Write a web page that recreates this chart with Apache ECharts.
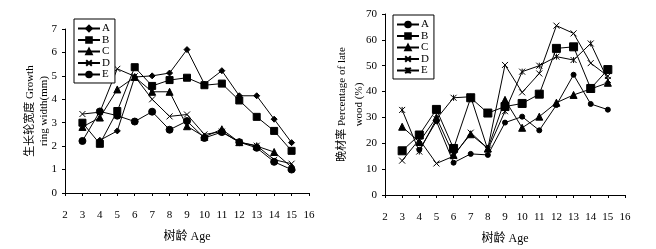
<!DOCTYPE html>
<html lang="zh">
<head>
    <meta charset="UTF-8">
    <title>Growth ring width / latewood</title>
    <script src="https://cdn.jsdelivr.net/npm/echarts@6/dist/echarts.min.js"></script>
    <style type="text/css">
        body{
            margin:0;
            background:#fff;
        }
        #left{position:absolute;left:0;top:0;width:330px;height:249px;}
        #right{position:absolute;left:330px;top:0;width:326px;height:249px;}
    </style>
</head>
<body>
<div id="left"></div>
<div id="right"></div>
<script type="text/javascript">
    // tree age (x)
    var ages = [3, 4, 5, 6, 7, 8, 9, 10, 11, 12, 13, 14, 15];
    var names = ['A', 'B', 'C', 'D', 'E'];

    // growth ring width (mm), left chart
    var widthA = [null, 2.25, 2.65, 4.95, 5.0, 5.12, 6.12, 4.65, 5.22, 4.15, 4.15, 3.15, 2.15];
    var widthB = [3.0, 2.1, 3.5, 5.37, 4.57, 4.82, 4.92, 4.6, 4.67, 3.95, 3.25, 2.65, 1.8];
    var widthC = [2.82, 3.22, 4.42, 4.95, 4.32, 4.32, 2.85, 2.4, 2.72, 2.17, 2.0, 1.75, 1.1];
    var widthD = [3.37, 3.45, 5.3, 4.98, 4.0, 3.27, 3.35, 2.5, 2.62, 2.17, 2.02, 1.42, 1.25];
    var widthE = [2.22, 3.48, 3.3, 3.05, 3.47, 2.7, 3.07, 2.35, 2.6, 2.17, 1.93, 1.33, 1.0];

    // percentage of late wood (%), right chart
    var lateA = [null, 17.5, 28.5, 12.5, 15.9, 15.5, 28, 30.3, 25, 34.8, 46.5, 35.2, 33];
    var lateB = [17.1, 23.2, 33.1, 18, 37.6, 31.7, 34.2, 35.4, 39, 56.7, 57.3, 41.2, 48.5];
    var lateC = [26.4, 20.5, 30, 15.5, 23.5, 18, 36.8, 26, 30.3, 35.7, 38.7, 41, 43.4];
    var lateD = [13.3, 21.5, 12.2, 15, 24.1, 18, 50.3, 39.7, 47, 65.5, 62.5, 51, 46];
    var lateE = [32.9, 16.8, 29.4, 37.6, 38, 17.5, 32.4, 47.7, 50, 53.5, 52.2, 58.6, 44.5];

    var latin = "'Liberation Serif', 'Noto Sans CJK SC', serif";
    var xMark = 'path://M0,0L10,10M10,0L0,10';
    var star = 'path://M0,0L10,10M10,0L0,10M5,0L5,10';

    function pairs(vals) {
        var out = [];
        for (var i = 0; i < ages.length; i++) {
            out.push([ages[i], vals[i]]);
        }
        return out;
    }

    function makeSeries(list, symbols, sizes) {
        var s = [];
        for (var i = 0; i < list.length; i++) {
            s.push({
                type: 'line',
                name: names[i],
                data: pairs(list[i]),
                symbol: symbols[i],
                symbolSize: sizes[i],
                connectNulls: false,
                lineStyle: {color: '#000', width: 1},
                itemStyle: {color: '#000', borderColor: '#000', borderWidth: 1},
                animation: false
            });
        }
        return s;
    }

    function baseOption(cfg) {
        var g = cfg.grid;
        g.outerBoundsMode = 'none';
        g.containLabel = false;
        return {
            backgroundColor: '#fff',
            textStyle: {fontFamily: latin, color: '#000'},
            grid: g,
            legend: {
                data: names,
                orient: 'vertical',
                left: cfg.legendLeft,
                top: cfg.legendTop,
                itemWidth: 22,
                itemHeight: 7,
                itemGap: 0.5,
                padding: [4, 5, 3, 3],
                borderColor: '#000',
                borderWidth: 1,
                backgroundColor: '#fff',
                textStyle: {fontFamily: latin, fontSize: 11, color: '#000', padding: [0, 0, 0, -3]}
            },
            xAxis: {
                type: 'value',
                min: 2,
                max: 16,
                interval: 1,
                name: '树龄 Age',
                nameLocation: 'middle',
                nameGap: 38,
                nameTextStyle: {fontFamily: latin, fontSize: 12, color: '#000'},
                axisLine: {lineStyle: {color: '#000', width: 1}},
                axisTick: {show: true, length: 3, lineStyle: {color: '#000'}},
                axisLabel: {margin: 17, fontSize: 11, color: '#000', fontFamily: latin},
                splitLine: {show: false}
            },
            yAxis: {
                type: 'value',
                min: 0,
                max: cfg.ymax,
                interval: cfg.yint,
                name: cfg.yname,
                nameLocation: 'middle',
                nameRotate: 90,
                nameGap: cfg.ygap,
                nameMoveOverlap: false,
                nameTextStyle: {fontFamily: latin, fontSize: 11, color: '#000', lineHeight: cfg.ylh},
                axisLine: {show: true, lineStyle: {color: '#000', width: 1}},
                axisTick: {show: true, length: 3, lineStyle: {color: '#000'}},
                axisLabel: {margin: 8, fontSize: 11, color: '#000', fontFamily: latin},
                splitLine: {show: false}
            },
            series: cfg.series
        };
    }

    var leftChart = echarts.init(document.getElementById('left'));
    leftChart.setOption(baseOption({
        grid: {left: 65, right: 21, top: 29, bottom: 56},
        legendLeft: 74,
        legendTop: 19,
        ymax: 7,
        yint: 1,
        yname: '生长轮宽度 Growth\nring width(mm)',
        ygap: 14,
        ylh: 14,
        series: makeSeries([widthA, widthB, widthC, widthD, widthE],
            ['diamond', 'rect', 'triangle', xMark, 'circle'], [6, 7, 7, 6, 7])
    }));

    var rightChart = echarts.init(document.getElementById('right'));
    rightChart.setOption(baseOption({
        grid: {left: 55, right: 31, top: 14, bottom: 54},
        legendLeft: 63,
        legendTop: 15,
        ymax: 70,
        yint: 10,
        yname: '晚材率 Percentage of late\nwood (%)',
        ygap: 17,
        ylh: 17,
        series: makeSeries([lateA, lateB, lateC, lateD, lateE],
            ['circle', 'rect', 'triangle', xMark, star], [5, 8, 7, 6, 6])
    }));
</script>
</body>
</html>
